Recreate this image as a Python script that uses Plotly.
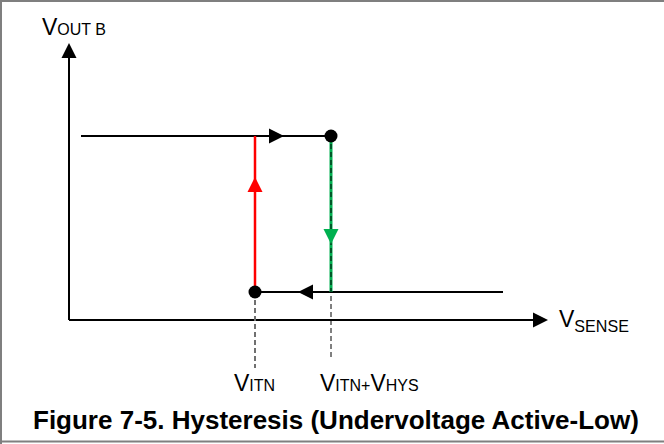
import plotly.graph_objects as go

# ---- schematic data (arbitrary units; origin at the axes' corner) ----
V_ITN = 18.6            # lower threshold
V_ITN_HYS = 26.2        # upper threshold (V_ITN + V_HYS)
VOUT_HIGH = 18.4
VOUT_LOW = 2.8
X_AXIS_END = 47.9
Y_AXIS_END = 27.7
HIGH_START = 1.2
LOW_END = 43.4
ITN_DASH_END = -4.8
HYS_DASH_END = -3.7

# arrow tip positions along the loop
TOP_ARROW_X = 21.5
RED_ARROW_Y = 14.3
GREEN_ARROW_Y = 7.6
LOW_ARROW_X = 22.9

LABEL_VOUT = "V<span style='font-size:16px'>OUT B</span>"
LABEL_VSENSE = "V<sub>SENSE</sub>"
LABEL_VITN = "V<span style='font-size:16px'>ITN</span>"
LABEL_VHYS = "V<span style='font-size:16px'>ITN+</span>V<span style='font-size:16px'>HYS</span>"
TITLE = "Figure 7-5. Hysteresis (Undervoltage Active-Low)"

FONT = "Liberation Sans, Arial, sans-serif"
GREEN = "#00B050"
RED = "#FF0000"
ARROW_SIZE = 15

fig = go.Figure()

def seg(x, y, color, width, dash=None):
    fig.add_trace(go.Scatter(x=x, y=y, mode="lines", hoverinfo="skip",
                             line=dict(color=color, width=width, dash=dash)))

def head(x, y, symbol, color):
    fig.add_trace(go.Scatter(x=[x], y=[y], mode="markers", hoverinfo="skip",
                             marker=dict(symbol=symbol, size=ARROW_SIZE, color=color,
                                         line=dict(width=0))))

# axes
seg([0, 0], [0, Y_AXIS_END - 0.8], "black", 2)
seg([0, X_AXIS_END - 0.8], [0, 0], "black", 2)
head(0, Y_AXIS_END, "arrow-up", "black")
head(X_AXIS_END, 0, "arrow-right", "black")

# hysteresis loop
seg([HIGH_START, V_ITN_HYS], [VOUT_HIGH, VOUT_HIGH], "black", 2)
seg([V_ITN, LOW_END], [VOUT_LOW, VOUT_LOW], "black", 2)
seg([V_ITN, V_ITN], [VOUT_LOW, VOUT_HIGH], RED, 2.5)
seg([V_ITN_HYS, V_ITN_HYS], [VOUT_HIGH, VOUT_LOW], GREEN, 3)
seg([V_ITN_HYS, V_ITN_HYS], [VOUT_HIGH, HYS_DASH_END], "black", 1, "5px,3px")
seg([V_ITN, V_ITN], [VOUT_LOW, ITN_DASH_END], "#707070", 2, "5px,3px")

head(TOP_ARROW_X, VOUT_HIGH, "arrow-right", "black")
head(V_ITN, RED_ARROW_Y, "arrow-up", RED)
head(V_ITN_HYS, GREEN_ARROW_Y, "arrow-down", GREEN)
head(LOW_ARROW_X, VOUT_LOW, "arrow-left", "black")

fig.add_trace(go.Scatter(x=[V_ITN_HYS, V_ITN], y=[VOUT_HIGH, VOUT_LOW], mode="markers",
                         marker=dict(color="black", size=13), hoverinfo="skip"))

ann = []
def label(x, y, text, xanchor="left", size=23, bold=False):
    ann.append(dict(x=x, y=y, xref="x", yref="y", text=("<b>%s</b>" % text) if bold else text,
                    showarrow=False, xanchor=xanchor, yanchor="middle",
                    font=dict(family=FONT, size=size, color="black")))

label(-2.9, 29.35, LABEL_VOUT)
label(48.8, 0.0, LABEL_VSENSE)
label(V_ITN - 0.1, -6.3, LABEL_VITN, xanchor="center")
label(24.9, -6.3, LABEL_VHYS)
label(26.7, -10.0, TITLE, xanchor="center", size=26, bold=True)

BORDER = dict(color="#7F7F7F", width=2)
fig.update_layout(
    width=664, height=444, autosize=False,
    margin=dict(l=0, r=0, t=0, b=0),
    paper_bgcolor="white", plot_bgcolor="white",
    showlegend=False,
    xaxis=dict(range=[-6.9, 59.5], visible=False, fixedrange=True),
    yaxis=dict(range=[-12.4, 32.0], visible=False, fixedrange=True),
    annotations=ann,
    shapes=[
        dict(type="line", xref="paper", yref="paper", x0=0, x1=1, y0=1 - 1 / 444, y1=1 - 1 / 444, line=BORDER),
        dict(type="line", xref="paper", yref="paper", x0=1 / 664, x1=1 / 664, y0=0, y1=1, line=BORDER),
        dict(type="line", xref="paper", yref="paper", x0=0, x1=1, y0=2.5 / 444, y1=2.5 / 444, line=BORDER),
    ],
)

fig.write_html("out.html", config={"displayModeBar": False},
               post_script="document.body.style.margin='0';document.body.style.overflow='hidden';")
